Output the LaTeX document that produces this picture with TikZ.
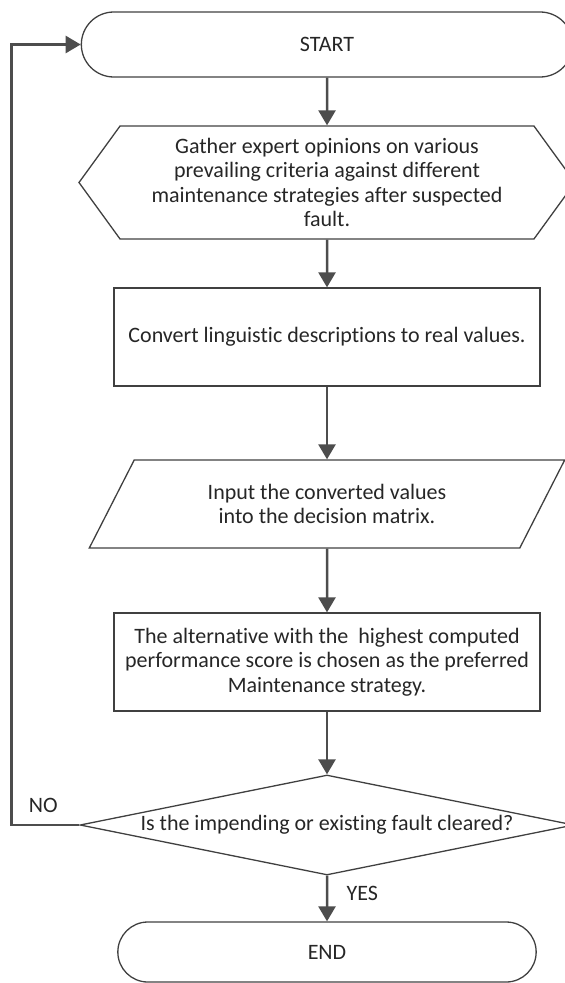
\documentclass[tikz,border=0pt]{standalone}
\usepackage{fontspec}
\setmainfont{Carlito}[Ligatures=NoCommon]
\usetikzlibrary{shapes.geometric,shapes.misc,shapes.symbols,arrows.meta}
\definecolor{linegray}{HTML}{404040}
\definecolor{arrowgray}{HTML}{4D4D4D}
\definecolor{textgray}{HTML}{262626}

\begin{document}
\begin{tikzpicture}[
  terminal/.style={rounded rectangle, draw=linegray, line width=1.3pt, minimum height=65pt, text=textgray},
  gather/.style={signal, signal to=east and west, signal pointer angle=108, draw=linegray, line width=1.3pt, minimum width=496pt, minimum height=113pt, align=center, text=textgray},
  block/.style={rectangle, draw=linegray, line width=1.3pt, minimum width=426pt, minimum height=98pt, inner sep=2pt, align=center, text=textgray},
  inout/.style={trapezium, trapezium left angle=58.5, trapezium right angle=121.5, trapezium stretches=true, draw=linegray, line width=1.3pt, minimum width=477pt, minimum height=88pt, align=center, text=textgray},
  decision/.style={diamond, aspect=4.94, draw=linegray, line width=1.3pt, minimum width=494pt, minimum height=100pt, inner sep=1pt, align=center, text=textgray},
  flow/.style={-{Triangle[length=15pt,width=17pt]}, line width=2.5pt, draw=arrowgray},
  font=\fontsize{22}{24.5}\selectfont
]
\useasboundingbox (0,0) rectangle (565pt,-983pt);

\node[terminal, minimum width=498pt] (start) at (327pt,-44.5pt) {START};
\node[gather, below of=start, node distance=138pt] (gather) {Gather expert opinions on various\\prevailing criteria against different\\maintenance strategies after suspected\\fault.};
\node[block, below of=gather, node distance=154.5pt] (convert) {Convert linguistic descriptions to real values.};
\node[inout, below of=convert, node distance=167pt] (input) {Input the converted values\\into the decision matrix.};
\node[block, below of=input, node distance=158pt] (choose) {The alternative with the\ \ highest computed\\performance score is chosen as the preferred\\Maintenance strategy.};
\node[decision, below of=choose, node distance=163pt] (decide) {Is the impending or existing fault cleared?};
\node[terminal, minimum width=425pt, minimum height=60pt, below of=decide, node distance=127pt] (end) {END};

\coordinate (loop) at ([xshift=-68pt]decide.west);

\draw[flow] (start) -- (gather);
\draw[flow] (gather) -- (convert);
\draw[flow] (convert) -- (input);
\draw[flow] (input) -- (choose);
\draw[flow] (choose) -- (decide);
\draw[flow] (decide) -- node[right=15pt, pos=0.4, text=textgray] {YES} (end);
\draw[flow] (decide.west) -- node[above=8pt, pos=0.53, text=textgray] {NO} (loop) |- (start.west);
\end{tikzpicture}
\end{document}
